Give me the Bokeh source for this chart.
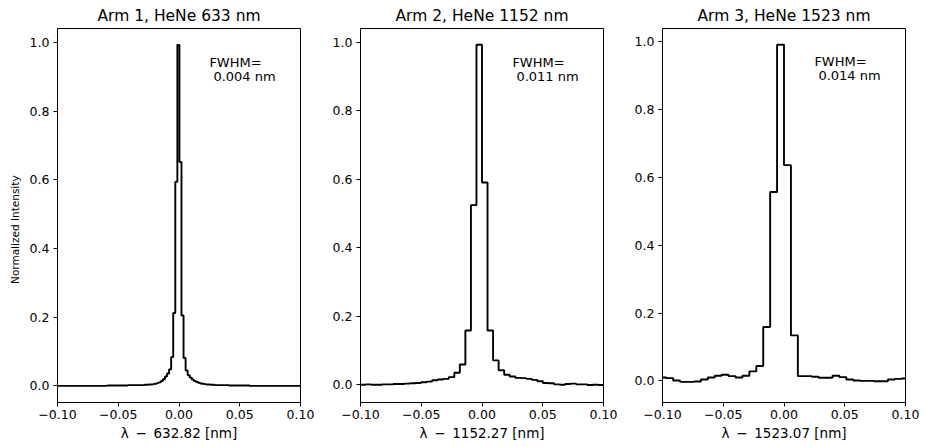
import numpy as np
from bokeh.plotting import figure
from bokeh.layouts import row
from bokeh.models import Range1d, FixedTicker
from bokeh.embed import file_html
from bokeh.resources import INLINE
from bokeh.core.properties import value

# ---------------- data ----------------
titles = ["Arm 1, HeNe 633 nm", "Arm 2, HeNe 1152 nm", "Arm 3, HeNe 1523 nm"]
xlabels = ["λ\u2002−\u2002632.82 [nm]", "λ\u2002−\u20021152.27 [nm]", "λ\u2002−\u20021523.07 [nm]"]
ylabel = "Normalized Intensity"
fwhm_values = ["0.004 nm", "0.011 nm", "0.014 nm"]

# spectral bin width [nm] and first bin edge [nm] of each arm
bin_width = [0.0017, 0.00456, 0.0057]
first_edge = [-0.09995, -0.10032, -0.1026]

arm1 = [
    0.000, 0.000, 0.000, 0.000, 0.000, 0.000, 0.000, 0.000, 0.000, 0.000, 0.000, 0.000,
    0.000, 0.000, 0.000, 0.000, 0.000, 0.000, 0.000, 0.000, 0.000, 0.000, 0.000, 0.000,
    0.001, 0.001, 0.001, 0.001, 0.001, 0.001, 0.001, 0.001, 0.001, 0.001,
    0.002, 0.002, 0.002, 0.002, 0.002, 0.002, 0.002,
    0.002, 0.003, 0.003, 0.004, 0.004, 0.005, 0.006, 0.008, 0.010, 0.014, 0.019, 0.027,
    0.036, 0.048, 0.084, 0.212, 0.594,
    0.993, 0.652, 0.205, 0.081, 0.045, 0.031, 0.024, 0.018, 0.014, 0.011, 0.009, 0.007,
    0.006, 0.005, 0.004, 0.004, 0.003, 0.003,
    0.002, 0.002, 0.002, 0.002, 0.002, 0.002, 0.002,
    0.001, 0.001, 0.001, 0.001, 0.001, 0.001, 0.001, 0.001, 0.001, 0.001,
    0.000, 0.000, 0.000, 0.000, 0.000, 0.000, 0.000, 0.000, 0.000, 0.000, 0.000, 0.000,
    0.000, 0.000, 0.000, 0.000, 0.000, 0.000, 0.000, 0.000, 0.000, 0.000, 0.000, 0.000,
    0.000,
]

arm2 = [
    0.000, 0.001, 0.000, 0.000, 0.001, 0.001, 0.002, 0.002, 0.003, 0.004, 0.005, 0.007,
    0.009, 0.013, 0.015, 0.017, 0.022, 0.035, 0.059, 0.158, 0.524, 0.992,
    0.590, 0.158, 0.071, 0.042, 0.029, 0.024, 0.020, 0.019, 0.017, 0.014, 0.010, 0.005,
    0.004, 0.001, 0.000, 0.002, 0.003, 0.001, 0.001, -0.001, 0.000, -0.001,
]

arm3 = [
    0.010, 0.008, 0.001, -0.003, -0.003, -0.002, 0.004, 0.010, 0.015, 0.018, 0.014, 0.010,
    0.015, 0.028, 0.044, 0.159, 0.557, 0.991,
    0.636, 0.134, 0.014, 0.014, 0.012, 0.009, 0.009, 0.015, 0.011, 0.004, 0.001, 0.000,
    0.000, -0.001, -0.001, 0.004, 0.006, 0.007,
]
spectra = [arm1, arm2, arm3]

x_ticks = [-0.10, -0.05, 0.0, 0.05, 0.10]
x_tick_labels = ["−0.10", "−0.05", "0.00", "0.05", "0.10"]
y_ticks = [0.0, 0.2, 0.4, 0.6, 0.8, 1.0]
y_tick_labels = ["0.0", "0.2", "0.4", "0.6", "0.8", "1.0"]
x_limits = (-0.10, 0.10)
y_limits = [(-0.0485, 1.0406), (-0.052, 1.0396), (-0.0638, 1.039)]
fwhm_anchor = (0.025, 0.9)

# ---------------- layout ----------------
FONT = "DejaVu Sans"
left_borders = [57, 46, 45]
frame_w = 243
right_border = 14
top_border = 28
frame_h = 375
bottom_border = 40

figs = []
for i in range(3):
    w = left_borders[i] + frame_w + right_border
    h = top_border + frame_h + bottom_border
    p = figure(width=w, height=h, output_backend="svg", toolbar_location=None,
               x_range=Range1d(*x_limits), y_range=Range1d(*y_limits[i]),
               min_border_left=left_borders[i], min_border_right=right_border,
               min_border_top=top_border, min_border_bottom=bottom_border,
               title=titles[i])
    p.title.align = "center"
    p.title.text_font = FONT
    p.title.text_font_size = "15.5px"
    p.title.text_font_style = "normal"
    p.title.text_color = "black"
    p.title.standoff = 8
    p.title.offset = 0

    p.grid.visible = False
    p.outline_line_color = "black"
    p.outline_line_alpha = 1.0
    p.outline_line_width = 1
    p.background_fill_color = "white"
    p.border_fill_color = "white"

    for ax in (p.xaxis, p.yaxis):
        ax.axis_line_color = "black"
        ax.major_tick_line_color = "black"
        ax.minor_tick_line_color = None
        ax.major_tick_out = 4
        ax.major_tick_in = 0
        ax.major_label_text_font = FONT
        ax.major_label_text_font_size = "12.5px"
        ax.major_label_text_color = "black"
        ax.axis_label_text_font = FONT
        ax.axis_label_text_font_style = "normal"
        ax.axis_label_text_color = "black"

    p.xaxis.ticker = FixedTicker(ticks=x_ticks)
    p.xaxis.major_label_overrides = dict(zip(x_ticks, x_tick_labels))
    p.yaxis.ticker = FixedTicker(ticks=y_ticks)
    p.yaxis.major_label_overrides = dict(zip(y_ticks, y_tick_labels))
    p.xaxis.axis_label = xlabels[i]
    p.xaxis.axis_label_text_font_size = "13.5px"
    p.xaxis.axis_label_standoff = 3
    p.xaxis.major_label_standoff = 3
    p.yaxis.major_label_standoff = 4
    if i == 0:
        # trailing wide spaces move the rotated label slightly below the frame centre
        p.yaxis.axis_label = ylabel + "\u2003\u2003\u2002\u2009"
        p.yaxis.axis_label_text_font_size = "10.5px"
        p.yaxis.axis_label_standoff = 6

    vals = np.array(spectra[i], dtype=float)
    edges = first_edge[i] + bin_width[i] * np.arange(len(vals) + 1)
    xs = np.repeat(edges, 2)[1:-1]
    ys = np.repeat(vals, 2)
    p.line(xs, ys, line_color="black", line_width=1.9)

    p.text(x=[fwhm_anchor[0]], y=[fwhm_anchor[1]], text=["FWHM="],
           text_font=value(FONT), text_font_size="13px", text_color="black",
           text_baseline="alphabetic", text_align="left", y_offset=-14)
    p.text(x=[fwhm_anchor[0]], y=[fwhm_anchor[1]], text=[fwhm_values[i]],
           text_font=value(FONT), text_font_size="13px", text_color="black",
           text_baseline="alphabetic", text_align="left", x_offset=4)
    figs.append(p)

layout = row(*figs, spacing=0)
open("out.html", "w").write(file_html(layout, INLINE))
